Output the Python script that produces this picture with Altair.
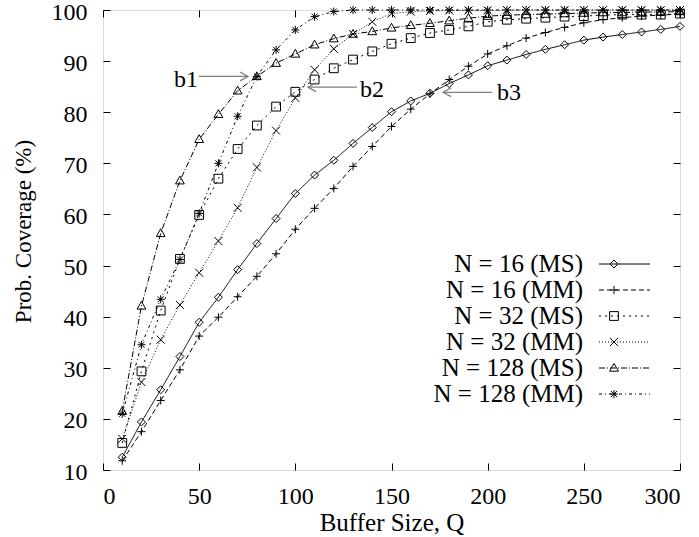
import altair as alt
import pandas as pd

# ---------------- data ----------------
q_values = list(range(10, 310, 10))

series_names = ["N = 16 (MS)", "N = 16 (MM)", "N = 32 (MS)",
                "N = 32 (MM)", "N = 128 (MS)", "N = 128 (MM)"]
series_keys = ["1", "2", "3", "4", "5", "6"]

n16_ms = [12.5, 19.4, 25.7, 32.2, 38.9, 43.8, 49.2, 54.3, 59.2, 64.1,
          67.7, 70.6, 73.9, 77.0, 80.1, 82.2, 83.7, 85.6, 87.3, 89.1,
          90.2, 91.3, 92.3, 93.2, 94.1, 94.7, 95.2, 95.7, 96.2, 96.8]
n16_mm = [11.8, 17.5, 23.6, 29.6, 36.2, 39.9, 43.9, 47.9, 52.3, 57.1,
          61.2, 65.1, 69.4, 73.3, 77.2, 80.6, 83.6, 86.4, 89.0, 91.4,
          93.0, 94.5, 95.6, 96.6, 97.5, 98.1, 98.5, 98.8, 99.0, 99.2]
n32_ms = [15.3, 29.3, 41.2, 51.3, 59.9, 67.0, 72.8, 77.4, 81.1, 84.0,
          86.4, 88.6, 90.3, 91.9, 93.4, 94.5, 95.5, 96.1, 96.8, 97.7,
          98.1, 98.3, 98.5, 98.7, 98.8, 99.0, 99.1, 99.1, 99.1, 99.3]
n32_mm = [16.1, 27.2, 35.5, 42.3, 48.6, 54.8, 61.3, 69.2, 76.4, 82.8,
          88.3, 92.4, 95.3, 97.7, 99.3, 99.7, 99.8, 99.9, 99.9, 99.9,
          100.0, 100.0, 100.0, 100.0, 100.0, 100.0, 100.0, 100.0, 100.0, 100.0]
n128_ms = [21.5, 42.1, 56.3, 66.6, 74.7, 79.6, 84.2, 87.0, 89.6, 91.4,
           93.2, 94.4, 95.3, 95.8, 96.5, 97.0, 97.4, 97.9, 98.4, 98.8,
           99.0, 99.1, 99.2, 99.3, 99.4, 99.5, 99.5, 99.6, 99.6, 99.7]
n128_mm = [21.0, 34.5, 43.4, 51.2, 60.2, 70.0, 79.2, 87.0, 92.2, 96.1,
           98.7, 99.7, 100.0, 100.0, 100.0, 100.0, 100.0, 100.0, 100.0, 100.0,
           100.0, 100.0, 100.0, 100.0, 100.0, 100.0, 100.0, 100.0, 100.0, 100.0]

all_series = [n16_ms, n16_mm, n32_ms, n32_mm, n128_ms, n128_mm]

x_ticks = [0, 50, 100, 150, 200, 250, 300]
y_ticks = [10, 20, 30, 40, 50, 60, 70, 80, 90, 100]

ann_labels = ["b1", "b2", "b3"]
ann_text_q = [36.9, 133.6, 204.9]
ann_text_v = [84.9, 83.0, 82.4]
arrow_tail_q = [49.9, 132.1, 202.3]
arrow_tip_q = [75.4, 106.6, 176.8]
arrow_v = [87.0, 84.9, 83.9]
arrow_angle = [0, 180, 180]

# ---------------- styles ----------------
dash_styles = [[1, 0], [5, 3], [2, 4], [1, 2], [6, 2, 1, 2], [3, 3, 1, 3]]
marker_paths = [
    "M0,-1L1,0L0,1L-1,0Z",
    "M-1,0L1,0M0,-1L0,1",
    "M-1.1,-1.1L1.1,-1.1L1.1,1.1L-1.1,1.1Z",
    "M-1,-1L1,1M-1,1L1,-1",
    "M0,-1.15L1.1,0.8L-1.1,0.8Z",
    "M-1,0L1,0M0,-1L0,1M-0.75,-0.75L0.75,0.75M-0.75,0.75L0.75,-0.75",
]
FONT = "Liberation Serif"
W, H = 577, 460
LEG_X, LEG_Y = 498.5, 241.5
LABEL_OFFSET = {"expr": "-43.5"}

rows = []
for name, key, vals in zip(series_names, series_keys, all_series):
    for qq, v in zip(q_values, vals):
        rows.append({"q": qq, "cov": v, "series": name, "key": key})
df = pd.DataFrame(rows)

ann_df = pd.DataFrame({"label": ann_labels, "q": ann_text_q, "v": ann_text_v})
arr_df = pd.DataFrame({"tail": arrow_tail_q, "tip": arrow_tip_q,
                       "v": arrow_v, "ang": arrow_angle})

xs = alt.Scale(domain=[0, 300], nice=False, zero=False)
ys = alt.Scale(domain=[10, 100], nice=False, zero=False)

tick_axis = dict(labels=False, domain=False, grid=False, ticks=True,
                 tickSize=7, tickWidth=1, tickColor="black", title=None)

lines = alt.Chart(df).mark_line(strokeWidth=1, color="black").encode(
    x=alt.X("q:Q", scale=xs, axis=alt.Axis(
        values=x_ticks, orient="bottom", ticks=False, tickSize=0, domain=False,
        grid=False, labelPadding=14, labelFontSize=24, labelFont=FONT,
        labelColor="black", title="Buffer Size, Q", titleFontSize=25,
        titleFont=FONT, titleFontWeight="normal", titleColor="black",
        titleBaseline="alphabetic", titleY=60)),
    y=alt.Y("cov:Q", scale=ys, axis=alt.Axis(
        values=y_ticks, orient="left", ticks=False, tickSize=0, domain=False,
        grid=False, labelPadding=16, labelFontSize=24, labelFont=FONT,
        labelColor="black", labelOffset=2, title="Prob. Coverage (%)", titleFontSize=23,
        titleFont=FONT, titleFontWeight="normal", titleColor="black",
        titleBaseline="alphabetic", titleX=-73, titleY=221, titleAlign="center")),
    strokeDash=alt.StrokeDash("series:N", scale=alt.Scale(domain=series_names, range=dash_styles),
        legend=alt.Legend(orient="none", legendX=LEG_X, legendY=LEG_Y, title=None,
                          labelFontSize=25, labelFont=FONT, labelColor="black",
                          labelAlign="right", labelOffset=LABEL_OFFSET, labelLimit=400,
                          symbolType="M-3.75,0L9,0", symbolSize=64, symbolStrokeWidth=1,
                          symbolStrokeColor="black", rowPadding=0, padding=0)),
)

points = alt.Chart(df).mark_point(filled=False, color="black", strokeWidth=1,
                                  size=64, opacity=1).encode(
    x=alt.X("q:Q", scale=xs, axis=alt.Axis(values=x_ticks, orient="top", offset=-H, **tick_axis)),
    y=alt.Y("cov:Q", scale=ys, axis=alt.Axis(values=y_ticks, orient="right", offset=-W, **tick_axis)),
    shape=alt.Shape("key:N", scale=alt.Scale(domain=series_keys, range=marker_paths),
        legend=alt.Legend(orient="none", legendX=LEG_X, legendY=LEG_Y, title=None,
                          labelFontSize=25, labelFont=FONT, labelOpacity=0,
                          labelExpr="' '",
                          labelAlign="right", labelOffset=LABEL_OFFSET,
                          symbolSize=64, symbolStrokeWidth=1, symbolStrokeColor="black",
                          rowPadding=0, padding=0)),
)

arrows = alt.Chart(arr_df).mark_rule(color="#808080", strokeWidth=1.3).encode(
    x=alt.X("tail:Q", scale=xs, axis=alt.Axis(values=x_ticks, orient="bottom", offset=-H, **tick_axis)),
    x2="tip:Q",
    y=alt.Y("v:Q", scale=ys, axis=alt.Axis(values=y_ticks, orient="left", offset=-W, **tick_axis)),
)

heads = alt.Chart(arr_df).mark_point(shape="M-1,-0.55L0,0L-1,0.55", filled=False,
                                     color="#808080", strokeWidth=1.3, size=256, opacity=1).encode(
    x=alt.X("tip:Q", scale=xs, axis=None),
    y=alt.Y("v:Q", scale=ys, axis=None),
    angle=alt.Angle("ang:Q", scale=None),
)

texts = alt.Chart(ann_df).mark_text(font=FONT, fontSize=24, align="left",
                                    baseline="alphabetic", color="black").encode(
    x=alt.X("q:Q", scale=xs, axis=None),
    y=alt.Y("v:Q", scale=ys, axis=None),
    text="label:N",
)

chart = alt.layer(lines, points, arrows, heads, texts).resolve_axis(
    x="independent", y="independent"
).properties(
    width=W, height=H,
    autosize=alt.AutoSizeParams(type="none"),
    padding={"left": 103, "top": 10, "right": 19, "bottom": 67},
).configure_view(stroke="black", strokeWidth=1).configure(background="white")

chart.save("out.html", embed_options={"renderer": "svg", "actions": False})
